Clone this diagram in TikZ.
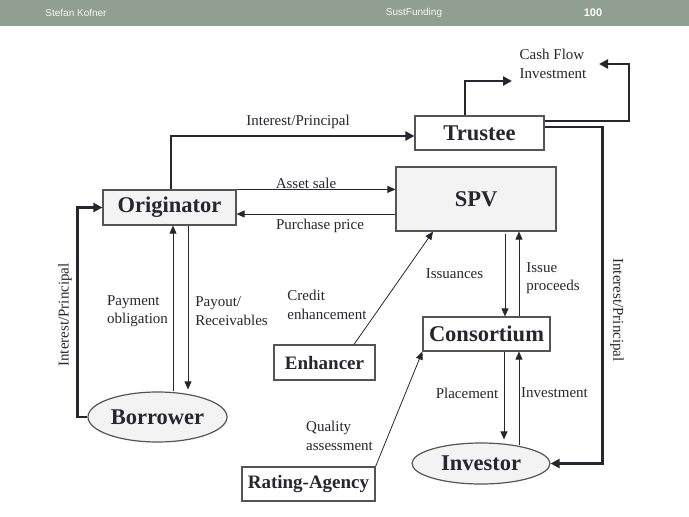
\documentclass[tikz,border=0pt]{standalone}
\usepackage{fontspec}
\setmainfont{Liberation Serif}
\newfontfamily\hdrfont{Liberation Sans}
\usetikzlibrary{arrows.meta,shapes.geometric,calc}
\definecolor{band}{HTML}{919F93}
\definecolor{boxfill}{HTML}{F3F3F3}
\definecolor{ink}{HTML}{262630}
\definecolor{edge}{HTML}{555555}
\tikzset{
  box/.style={draw=edge, line width=1.2pt, fill=white, inner sep=0pt, font=\fontsize{22.5}{25}\selectfont\bfseries, text=ink},
  greybox/.style={box, fill=boxfill},
  smallbox/.style={box, font=\fontsize{19}{22}\selectfont\bfseries},
  oval/.style={ellipse, draw=edge, line width=1.2pt, fill=boxfill, inner sep=0pt, font=\fontsize{22.5}{25}\selectfont\bfseries, text=ink},
  lbl/.style={font=\fontsize{15}{18.5}\selectfont, text=ink, inner sep=0pt},
  thk/.style={draw=ink, line width=2.4pt, -{Triangle[length=9pt,width=9pt]}},
  thn/.style={draw=ink, line width=0.8pt, -{Triangle[length=8pt,width=7pt]}},
  hdr/.style={font=\hdrfont\fontsize{10}{12}\selectfont, text=white!92!band, inner sep=0pt}
}
\begin{document}
\begin{tikzpicture}[x=1pt,y=-1pt]
\useasboundingbox (0,0) rectangle (689,517);
\fill[white] (0,0) rectangle (689,517);
\fill[band] (0,0) rectangle (689,26);
\node[hdr] (h1) at (76,13) {Stefan Kofner};
\node[hdr] (h2) at (414,13) {SustFunding};
\node[hdr, font=\hdrfont\bfseries\fontsize{11}{13}\selectfont, text=white] (h3) at (593,13) {100};

% nodes
\node[box, minimum width=129pt, minimum height=34pt] (tru) at (479.5,133) {Trustee};
\node[greybox, minimum width=160pt, minimum height=64pt] (spv) at (476,199) {SPV};
\node[greybox, minimum width=133pt, minimum height=35pt] (orig) at (169.5,207.5) {Originator};
\node[box, minimum width=127pt, minimum height=34pt] (cons) at (486.5,334) {Consortium};
\node[smallbox, minimum width=101pt, minimum height=35pt] (enh) at (324.5,362.5) {Enhancer};
\node[smallbox, minimum width=133pt, minimum height=34pt] (rat) at (308.5,484) {Rating-Agency};
\node[oval, minimum width=139pt, minimum height=50pt] (bor) at (157.5,417) {Borrower};
\node[oval, minimum width=138pt, minimum height=41pt] (inv) at (481,463.5) {Investor};

\node[lbl, align=left] (cf) at (553,64) {Cash Flow\\Investment};

% thick connectors
\draw[thk] ([xshift=1.5pt]orig.north) |- ([yshift=-3pt]tru.west);
\coordinate (cfa) at (512,81);
\draw[thk] ([xshift=-14.5pt]tru.north) |- (cfa);
\coordinate (c1) at (629,64);
\coordinate (c1e) at (599,64);
\draw[thk] ([yshift=12pt]tru.east) -| (c1) -- (c1e);
\draw[thk] ([yshift=6pt]tru.east) -| ([xshift=52pt]inv.east) -- (inv.east);
\draw[thk] (bor.west) -| ([xshift=-25pt]orig.west) -- (orig.west);

% thin connectors
\draw[thn] (orig.north east) -- (orig.north east -| spv.west);
\path ([yshift=-6.5pt]orig.east) coordinate (pp);
\draw[thn] (pp -| spv.west) -- (pp);
\coordinate (po) at (173,0);
\coordinate (pr) at (188,0);
\draw[thn] (po |- bor.north) -- (po |- orig.south);
\draw[thn] (pr |- orig.south) -- ([yshift=2pt]pr |- bor.north);
\draw[thn] ([xshift=29.5pt]enh.north) -- ([xshift=-43pt]spv.south);
\draw[thn] (rat.north east) -- (cons.south west);
\coordinate (is) at (505,0);
\coordinate (ip) at (519,0);
\coordinate (pl) at (504,0);
\coordinate (iv) at (519,0);
\draw[thn] ([yshift=-2pt]is |- spv.south) -- (is |- cons.north);
\draw[thn] (ip |- cons.north) -- (ip |- spv.south);
\draw[thn] (pl |- cons.south) -- ([yshift=3pt]pl |- inv.north);
\draw[thn] ([yshift=-3pt]iv |- inv.north) -- (iv |- cons.south);

% labels
\node[lbl] (l1) at (298,122) {Interest/Principal};
\node[lbl] (l2) at (306,183) {Asset sale};
\node[lbl] (l3) at (320,226) {Purchase price};
\node[lbl, align=left] (l4) at (137.5,311) {Payment\\obligation};
\node[lbl, align=left] (l5) at (231.5,311) {Payout/\\Receivables};
\node[lbl, align=left] (l6) at (327,305) {Credit\\enhancement};
\node[lbl, align=left] (l7) at (339.5,436) {Quality\\assessment};
\node[lbl] (l8) at (454.5,274) {Issuances};
\node[lbl, align=left] (l9) at (553,278) {Issue\\proceeds};
\node[lbl] (l10) at (467,393) {Placement};
\node[lbl] (l11) at (554.5,393) {Investment};
\node[lbl, rotate=90] (l12) at (65,315) {Interest/Principal};
\node[lbl, rotate=-90] (l13) at (617,310) {Interest/Principal};
\end{tikzpicture}
\end{document}
